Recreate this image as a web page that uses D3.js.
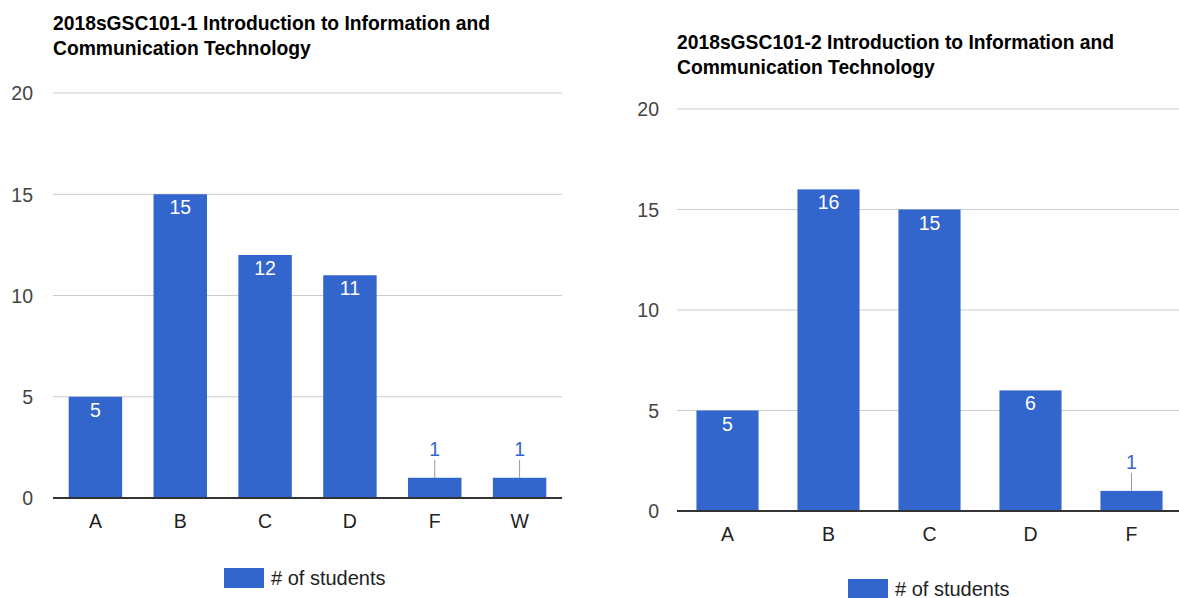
<!DOCTYPE html>
<html><head><meta charset="utf-8">
<script src="https://cdn.jsdelivr.net/npm/d3@7"></script>
<style>body{margin:0;background:#fff;font-family:"Liberation Sans",Arial,sans-serif;}</style>
</head><body>
<svg id="c" width="1179" height="598"></svg>
<script>
const grades1 = ["A","B","C","D","F","W"];
const counts1 = [5,15,12,11,1,1];
const title1 = ["2018sGSC101-1 Introduction to Information and","Communication Technology"];
const grades2 = ["A","B","C","D","F"];
const counts2 = [5,16,15,6,1];
const title2 = ["2018sGSC101-2 Introduction to Information and","Communication Technology"];
const yTicks = [0,5,10,15,20];
const seriesName = "# of students";

const svg = d3.select("#c");
const BLUE = "#3366cc";
const FS = 19.5;

function drawChart(o){
  const g = svg.append("g");
  o.title.forEach((t,i)=>g.append("text").attr("x",o.x0).attr("y",o.titleY+i*o.titleDy)
    .attr("font-size",19.3).attr("font-weight","bold").attr("fill","#000").text(t));
  const x = d3.scaleBand().domain(o.cats).range([o.x0,o.x1]).paddingInner(o.pad).paddingOuter(o.pad/2);
  const y = d3.scaleLinear().domain([0,20]).range([o.y0,o.y1]);
  g.selectAll(".grid").data(yTicks.filter(d=>d>0)).join("line")
    .attr("x1",o.x0).attr("x2",o.x1).attr("y1",d=>y(d)).attr("y2",d=>y(d))
    .attr("stroke","#cccccc").attr("stroke-width",1);
  const yAxis = d3.axisLeft(y).tickValues(yTicks).tickSize(0).tickPadding(0);
  const ya = g.append("g").attr("transform",`translate(${o.x0-o.ylabOff},0)`).call(yAxis);
  ya.select(".domain").remove();
  ya.selectAll("text").attr("font-size",FS).attr("fill","#444").attr("font-family","Liberation Sans, Arial, sans-serif").attr("dy","0.35em");
  g.selectAll(".bar").data(o.vals).join("rect")
    .attr("x",(d,i)=>x(o.cats[i])).attr("width",x.bandwidth())
    .attr("y",d=>y(d)).attr("height",d=>y(0)-y(d)).attr("fill",BLUE);
  g.append("line").attr("x1",o.x0).attr("x2",o.x1).attr("y1",y(0)).attr("y2",y(0)).attr("stroke","#333").attr("stroke-width",2);
  const xAxis = d3.axisBottom(x).tickSize(0).tickPadding(0);
  const xa = g.append("g").attr("transform",`translate(0,${y(0)+23})`).call(xAxis);
  xa.select(".domain").remove();
  xa.selectAll("text").attr("font-size",FS).attr("fill","#222").attr("font-family","Liberation Sans, Arial, sans-serif").attr("dy","0.35em");
  o.vals.forEach((v,i)=>{
    const cx = x(o.cats[i]) + x.bandwidth()/2;
    if (y(0)-y(v) > 30){
      g.append("text").attr("x",cx).attr("y",y(v)+20).attr("text-anchor","middle")
        .attr("font-size",FS).attr("fill","#fff").text(v);
    } else {
      g.append("line").attr("x1",cx).attr("x2",cx).attr("y1",y(v)).attr("y2",y(v)-18)
        .attr("stroke","#999").attr("stroke-width",1);
      g.append("text").attr("x",cx).attr("y",y(v)-22).attr("text-anchor","middle")
        .attr("font-size",FS).attr("fill",BLUE).text(v);
    }
  });
  g.append("rect").attr("x",o.legX).attr("y",o.legY-10).attr("width",40).attr("height",20).attr("fill",BLUE);
  g.append("text").attr("x",o.legX+47).attr("y",o.legY).attr("dy","0.35em").attr("font-size",20).attr("fill","#222").text(seriesName);
}

drawChart({cats:grades1, vals:counts1, title:title1, x0:53, x1:562, y0:498, y1:93, pad:0.37,
  titleY:30, titleDy:25, ylabOff:20, legX:224, legY:578});
drawChart({cats:grades2, vals:counts2, title:title2, x0:677, x1:1182, y0:511, y1:109, pad:0.385,
  titleY:49, titleDy:25, ylabOff:18, legX:848, legY:589});
</script>
</body></html>
